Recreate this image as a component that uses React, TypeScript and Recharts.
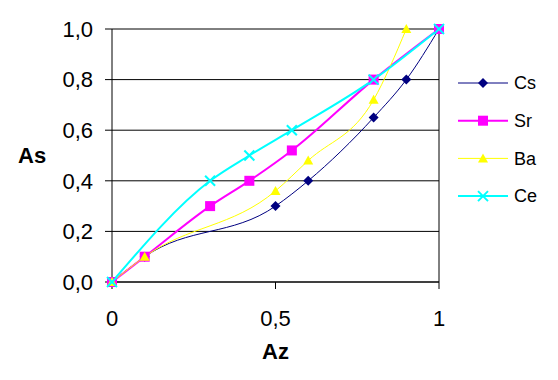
import React from "react"
import { CartesianGrid, Line, LineChart, ReferenceLine, XAxis, YAxis } from "recharts"

// Az / As values per element
const csAz = [0, 0.1, 0.5, 0.6, 0.8, 0.9, 1]
const csAs = [0, 0.1, 0.3, 0.4, 0.65, 0.8, 1]
const srAz = [0, 0.1, 0.3, 0.42, 0.55, 0.8, 1]
const srAs = [0, 0.1, 0.3, 0.4, 0.52, 0.8, 1]
const baAz = [0, 0.1, 0.5, 0.6, 0.8, 0.9]
const baAs = [0, 0.1, 0.36, 0.48, 0.72, 1]
const ceAz = [0, 0.3, 0.42, 0.55, 0.8, 1]
const ceAs = [0, 0.4, 0.5, 0.6, 0.8, 1]

const xTicks = [0, 0.5, 1]
const yTicks = [0, 0.2, 0.4, 0.6, 0.8, 1]

const toRows = (az: number[], as: number[]) => az.map((a, i) => ({ az: a, as: as[i] }))

const FONT = "'Liberation Sans', Arial, sans-serif"
const comma = (v: number) => String(v).replace(".", ",")

type Shape = "diamond" | "square" | "triangle" | "cross"

const marker = (shape: Shape, color: string, cx: number, cy: number, key?: any) => {
  switch (shape) {
    case "diamond":
      return <polygon key={key} points={`${cx},${cy - 5} ${cx + 5},${cy} ${cx},${cy + 5} ${cx - 5},${cy}`} fill={color} />
    case "square":
      return <rect key={key} x={cx - 5} y={cy - 5} width={10} height={10} fill={color} />
    case "triangle":
      return <polygon key={key} points={`${cx},${cy - 5} ${cx + 5},${cy + 4} ${cx - 5},${cy + 4}`} fill={color} />
    default:
      return (
        <g key={key} stroke={color} strokeWidth={2}>
          <line x1={cx - 5} y1={cy - 5} x2={cx + 5} y2={cy + 5} />
          <line x1={cx - 5} y1={cy + 5} x2={cx + 5} y2={cy - 5} />
        </g>
      )
  }
}

const series = [
  { name: "Cs", data: toRows(csAz, csAs), color: "#000080", width: 1, shape: "diamond" as Shape },
  { name: "Sr", data: toRows(srAz, srAs), color: "#FF00FF", width: 2, shape: "square" as Shape },
  { name: "Ba", data: toRows(baAz, baAs), color: "#FFFF00", width: 1, shape: "triangle" as Shape },
  { name: "Ce", data: toRows(ceAz, ceAs), color: "#00FFFF", width: 2, shape: "cross" as Shape },
]

const LegendBox = () => (
  <svg width={100} height={160} style={{ position: "absolute", left: 456, top: 63 }}>
    {series.map((s, i) => {
      const y = 20 + i * 37.7
      return (
        <g key={s.name}>
          <line x1={2} y1={y} x2={52} y2={y} stroke={s.color} strokeWidth={s.width} />
          {marker(s.shape, s.color, 27, y)}
          <text x={58} y={y} dy="0.35em" fontSize={18} fontFamily={FONT} fill="#000">
            {s.name}
          </text>
        </g>
      )
    })}
  </svg>
)

export default function App() {
  return (
    <div style={{ position: "absolute", left: 0, top: 0, width: 558, height: 380, background: "#fff" }}>
      <LineChart width={558} height={380} margin={{ top: 29, right: 119, bottom: 18, left: 0 }}>
        <CartesianGrid vertical={false} stroke="#000" />
        <XAxis
          type="number"
          dataKey="az"
          domain={[0, 1]}
          ticks={xTicks}
          tickFormatter={comma}
          stroke="#000"
          tickSize={7}
          tickMargin={21}
          height={80}
          tick={{ fill: "#000", fontSize: 22, fontFamily: FONT }}
          label={{ value: "Az", position: "insideBottom", offset: 3, fill: "#000", fontSize: 22, fontWeight: "bold", fontFamily: FONT }}
        />
        <YAxis
          type="number"
          domain={[0, 1]}
          ticks={yTicks}
          tickFormatter={(v: number) => v.toFixed(1).replace(".", ",")}
          stroke="#000"
          tickSize={7}
          tickMargin={12}
          width={112}
          tick={{ fill: "#000", fontSize: 22, fontFamily: FONT }}
          label={{ value: "As", position: "insideLeft", offset: 18, fill: "#000", fontSize: 22, fontWeight: "bold", fontFamily: FONT }}
        />
        <ReferenceLine x={1} stroke="#000" />
        {series.map((s) => (
          <Line
            key={s.name}
            data={s.data}
            dataKey="as"
            name={s.name}
            type="monotone"
            stroke={s.color}
            strokeWidth={s.width}
            isAnimationActive={false}
            dot={(p: any) => marker(s.shape, s.color, p.cx, p.cy, p.key ?? `${s.name}-${p.index}`)}
            activeDot={false}
          />
        ))}
      </LineChart>
      <LegendBox />
    </div>
  )
}
